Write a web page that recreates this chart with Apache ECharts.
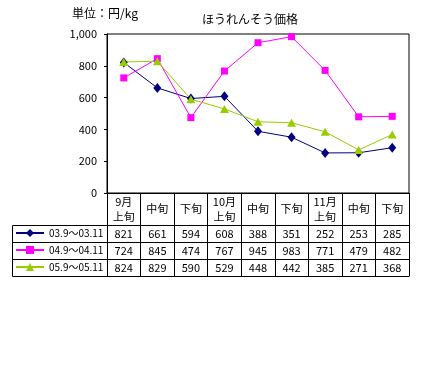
<!DOCTYPE html>
<html>
<head>
<meta charset="utf-8">
<script src="https://cdn.jsdelivr.net/npm/echarts@6/dist/echarts.min.js"></script>
<style>
html, body { margin: 0; padding: 0; background: #fff; }
#chart { width: 427px; height: 377px; }
</style>
</head>
<body>
<div id="chart"></div>
<script>
// データ
const categories = ['9月\n上旬', '中旬', '下旬', '10月\n上旬', '中旬', '下旬', '11月\n上旬', '中旬', '下旬'];
const seriesNames = ['03.9～03.11', '04.9～04.11', '05.9～05.11'];
const prices03 = [821, 661, 594, 608, 388, 351, 252, 253, 285];
const prices04 = [724, 845, 474, 767, 945, 983, 771, 479, 482];
const prices05 = [824, 829, 590, 529, 448, 442, 385, 271, 368];
const yMin = 0;
const yMax = 1000;
const yStep = 200;

const font = '"Noto Sans CJK JP", sans-serif';
const rows = [prices03, prices04, prices05];
const rowMargins = [40.5, 57.5, 74.5];

var chartDom = document.getElementById('chart');
var myChart = echarts.init(chartDom);

// 表の値の行（x軸ラベルとして描く）
var rowAxes = rows.map(function (vals, i) {
    return {
        type: 'category',
        gridIndex: 0,
        position: 'bottom',
        data: vals.map(String),
        axisLine: { show: false },
        axisTick: { show: false },
        axisLabel: {
            interval: 0,
            margin: rowMargins[i],
            verticalAlign: 'middle',
            color: '#000',
            fontSize: 11,
            fontFamily: font
        }
    };
});

var option = {
    animation: false,
    backgroundColor: '#fff',
    title: [
        {
            text: '単位：円/kg',
            left: 72,
            top: 7,
            padding: 0,
            textStyle: { fontSize: 12, fontWeight: 'normal', color: '#000', fontFamily: font }
        },
        {
            text: 'ほうれんそう価格',
            left: 202,
            top: 13,
            padding: 0,
            textStyle: { fontSize: 12, fontWeight: 'normal', color: '#000', fontFamily: font }
        }
    ],
    legend: {
        orient: 'vertical',
        left: 15,
        top: 228,
        padding: 0,
        itemWidth: 28,
        itemHeight: 10,
        itemGap: 7,
        itemTextGap: 2,
        textStyle: { fontSize: 10, color: '#000', fontFamily: font },
        data: seriesNames
    },
    grid: {
        left: 107,
        right: 18,
        top: 34,
        bottom: 184,
        show: true,
        borderColor: '#000',
        borderWidth: 1,
        backgroundColor: '#fff'
    },
    xAxis: [
        {
            type: 'category',
            position: 'bottom',
            boundaryGap: true,
            data: categories,
            axisLine: { lineStyle: { color: '#000', width: 1 } },
            axisTick: { show: true, length: 83, lineStyle: { color: '#000' } },
            axisLabel: {
                interval: 0,
                margin: 16,
                verticalAlign: 'middle',
                lineHeight: 15,
                color: '#000',
                fontSize: 11,
                fontFamily: font
            }
        }
    ].concat(rowAxes),
    yAxis: {
        type: 'value',
        min: yMin,
        max: yMax,
        interval: yStep,
        axisLine: { show: true, lineStyle: { color: '#000' } },
        axisTick: { show: true, length: 3, lineStyle: { color: '#000' } },
        splitLine: { show: false },
        axisLabel: { margin: 10, color: '#000', fontSize: 11, fontFamily: font }
    },
    series: [
        {
            name: seriesNames[0],
            type: 'line',
            data: prices03,
            symbol: 'diamond',
            symbolSize: [8, 10],
            lineStyle: { color: '#000080', width: 1 },
            itemStyle: { color: '#000080' }
        },
        {
            name: seriesNames[1],
            type: 'line',
            data: prices04,
            symbol: 'rect',
            symbolSize: 7,
            lineStyle: { color: '#ff00ff', width: 1 },
            itemStyle: { color: '#ff00ff' }
        },
        {
            name: seriesNames[2],
            type: 'line',
            data: prices05,
            symbol: 'triangle',
            symbolSize: [9, 8],
            lineStyle: { color: '#99cc00', width: 1 },
            itemStyle: { color: '#99cc00' }
        }
    ]
};

option && myChart.setOption(option);

// 表の罫線
var tableLeft = 12.5, tableRight = 409.5;
var lineYs = [225.5, 242.5, 259.5, 276.5];
var graphics = lineYs.map(function (y) {
    return {
        type: 'line',
        shape: { x1: tableLeft, y1: y, x2: tableRight, y2: y },
        style: { stroke: '#000', lineWidth: 1 }
    };
});
graphics.push({
    type: 'line',
    shape: { x1: tableLeft, y1: lineYs[0], x2: tableLeft, y2: lineYs[3] },
    style: { stroke: '#000', lineWidth: 1 }
});
myChart.setOption({ graphic: graphics });

window.addEventListener('resize', function () {
    myChart.resize();
});
</script>
</body>
</html>
